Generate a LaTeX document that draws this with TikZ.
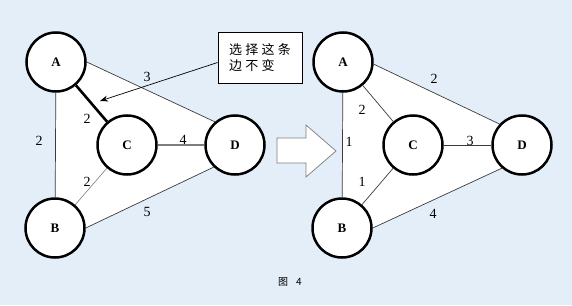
\documentclass[tikz,border=0pt]{standalone}
\usepackage{fontspec}
\setmainfont{Liberation Serif}
\newfontfamily\cjk[LetterSpace=25]{Noto Sans CJK SC}
\newfontfamily\cjkcap{Noto Sans CJK SC}
\usepackage{tikz}
\usetikzlibrary{arrows.meta, backgrounds}
\usepackage{xcolor}
\definecolor{paleblue}{RGB}{227,238,248}
\definecolor{edgegray}{RGB}{60,60,60}
\definecolor{midgray}{RGB}{125,125,125}

\begin{document}
\begin{tikzpicture}[x=1pt, y=-1pt,
  vtx/.style={circle, draw, line width=2.5pt, fill=white, minimum size=59pt, inner sep=0pt,
    font=\bfseries\fontsize{13}{13}\selectfont},
  wt/.style={inner sep=0pt, font=\fontsize{14}{14}\selectfont},
  edge/.style={edgegray, line width=0.7pt}]
  \useasboundingbox (0,0) rectangle (572,305);

  % left graph
  \node[vtx] (lA) at (56,62) {A};
  \node[vtx] (lB) at (55,228) {B};
  \node[vtx] (lC) at (127,145) {C};
  \node[vtx] (lD) at (235,145) {D};
  \draw[edge] (lA.0) -- (lD.131);
  \draw[edge] (lA) -- (lB);
  \draw[edge] (lB.0) -- (lD.226);
  \draw[edge, midgray, line width=0.6pt] (lB) -- (lC);
  \draw[midgray, line width=1.6pt] (lC) -- (lD);
  \draw[black, line width=2.6pt] (lA) -- (lC);
  \node[wt] (lwAD) at (147,77) {3};
  \node[wt] (lwAC) at (87,119) {2};
  \node[wt] (lwAB) at (39,141) {2};
  \node[wt] (lwCD) at (183,140) {4};
  \node[wt] (lwBC) at (87,182) {2};
  \node[wt] (lwBD) at (147,212) {5};

  % callout
  \node[draw, fill=white, line width=0.8pt, minimum width=84pt, minimum height=51pt,
    inner xsep=10pt, align=left, font=\fontsize{13}{16}\selectfont] (callout) at (260,57.5)
    {\cjk 选择这条\\\cjk 边不变};
  \coordinate (tip) at (100,101);
  \draw[black, line width=0.7pt, -{Stealth[length=8pt, width=6pt]}] ([yshift=-5pt]callout.west) -- (tip);

  % hollow arrow
  \draw[midgray, line width=0.7pt, fill=white]
    (277,138) -- (306,138) -- (306,125) -- (336,151) -- (306,177) -- (306,163) -- (277,163) -- cycle;

  % right graph
  \node[vtx] (rA) at (343,62) {A};
  \node[vtx] (rB) at (342,228) {B};
  \node[vtx] (rC) at (413,145) {C};
  \node[vtx] (rD) at (522,145) {D};
  \draw[edge] (rA.356) -- (rD.137);
  \draw[edge] (rA) -- (rB);
  \draw[edge] (rB.0) -- (rD.229);
  \draw[edge] (rA) -- (rC);
  \draw[edge] (rB) -- (rC);
  \draw[edge] (rC) -- (rD);
  \node[wt] (rwAD) at (434,79) {2};
  \node[wt] (rwAC) at (362,110) {2};
  \node[wt] (rwAB) at (349,142) {1};
  \node[wt] (rwCD) at (470,141) {3};
  \node[wt] (rwBC) at (362,182) {1};
  \node[wt] (rwBD) at (433,214) {4};

  \node[font=\cjkcap\fontsize{10}{10}\selectfont] (caption) at (290,282) {图\hspace{8pt}4};

  \begin{scope}[on background layer]
    \fill[paleblue] (0,0) rectangle (572,305);
    \fill[white] (lA.center) -- (lA.0) -- (lD.131) -- (lD.center) -- (lD.226) -- (lB.0) -- (lB.center) -- cycle;
    \fill[white] (rA.center) -- (rA.356) -- (rD.137) -- (rD.center) -- (rD.229) -- (rB.0) -- (rB.center) -- cycle;
  \end{scope}
\end{tikzpicture}
\end{document}
